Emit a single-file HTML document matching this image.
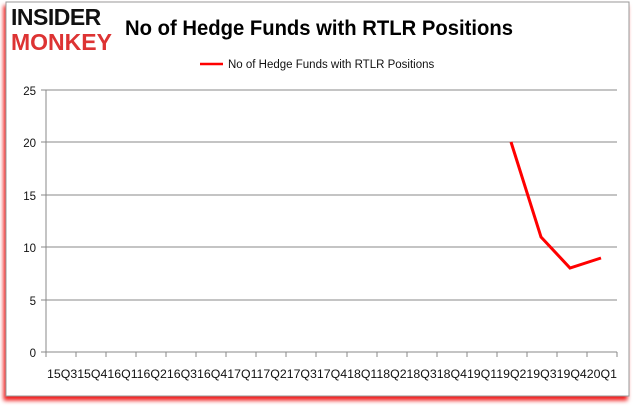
<!DOCTYPE html>
<html><head><style>
body{margin:0;background:#fff;}
</style></head><body>
<svg width="637" height="408" xmlns="http://www.w3.org/2000/svg" font-family="'Liberation Sans', sans-serif">
<defs><filter id="s" x="-5%" y="-5%" width="110%" height="115%"><feDropShadow dx="-2" dy="4" stdDeviation="2" flood-color="#e00" flood-opacity="0.9"/></filter></defs>
<rect x="6" y="2" width="623" height="394" fill="#fff" stroke="#999" stroke-width="1" filter="url(#s)"/>
<text x="11" y="25" font-size="23" font-weight="bold" fill="#111" letter-spacing="-0.5">INSIDER</text>
<text x="11" y="50" font-size="23" font-weight="bold" fill="#d33" letter-spacing="0">MONKEY</text>
<text x="125" y="35" font-size="21" font-weight="bold" fill="#000" textLength="388" lengthAdjust="spacingAndGlyphs">No of Hedge Funds with RTLR Positions</text>
<line x1="200" y1="64" x2="223" y2="64" stroke="red" stroke-width="2.5"/>
<text x="228" y="68" font-size="11.5" fill="#111">No of Hedge Funds with RTLR Positions</text>
<g stroke="#888" stroke-width="1">
<line x1="46" y1="90" x2="617" y2="90"/><line x1="46" y1="142" x2="617" y2="142"/>
<line x1="46" y1="195" x2="617" y2="195"/><line x1="46" y1="247" x2="617" y2="247"/>
<line x1="46" y1="300" x2="617" y2="300"/><line x1="46" y1="352" x2="617" y2="352"/>
<line x1="46" y1="90" x2="46" y2="352"/>
<line x1="41" y1="90" x2="46" y2="90"/><line x1="41" y1="142" x2="46" y2="142"/><line x1="41" y1="195" x2="46" y2="195"/><line x1="41" y1="247" x2="46" y2="247"/><line x1="41" y1="300" x2="46" y2="300"/><line x1="41" y1="352" x2="46" y2="352"/>
<line x1="46" y1="352" x2="46" y2="357"/><line x1="76" y1="352" x2="76" y2="357"/><line x1="106" y1="352" x2="106" y2="357"/><line x1="136" y1="352" x2="136" y2="357"/><line x1="166" y1="352" x2="166" y2="357"/><line x1="196" y1="352" x2="196" y2="357"/><line x1="226" y1="352" x2="226" y2="357"/><line x1="256" y1="352" x2="256" y2="357"/><line x1="286" y1="352" x2="286" y2="357"/><line x1="316" y1="352" x2="316" y2="357"/><line x1="347" y1="352" x2="347" y2="357"/><line x1="377" y1="352" x2="377" y2="357"/><line x1="407" y1="352" x2="407" y2="357"/><line x1="437" y1="352" x2="437" y2="357"/><line x1="467" y1="352" x2="467" y2="357"/><line x1="497" y1="352" x2="497" y2="357"/><line x1="527" y1="352" x2="527" y2="357"/><line x1="557" y1="352" x2="557" y2="357"/><line x1="587" y1="352" x2="587" y2="357"/><line x1="617" y1="352" x2="617" y2="357"/>
</g>
<g font-size="11.5" fill="#111" text-anchor="end">
<text x="36" y="95">25</text><text x="36" y="147">20</text><text x="36" y="200">15</text><text x="36" y="252">10</text><text x="36" y="305">5</text><text x="36" y="357">0</text>
</g>
<text x="47" y="378" font-size="11.5" fill="#111" textLength="570" lengthAdjust="spacingAndGlyphs">15Q315Q416Q116Q216Q316Q417Q117Q217Q317Q418Q118Q218Q318Q419Q119Q219Q319Q420Q1</text>
<polyline points="511,142 541,237 570,268 601,258" fill="none" stroke="red" stroke-width="3"/>
</svg>
</body></html>
